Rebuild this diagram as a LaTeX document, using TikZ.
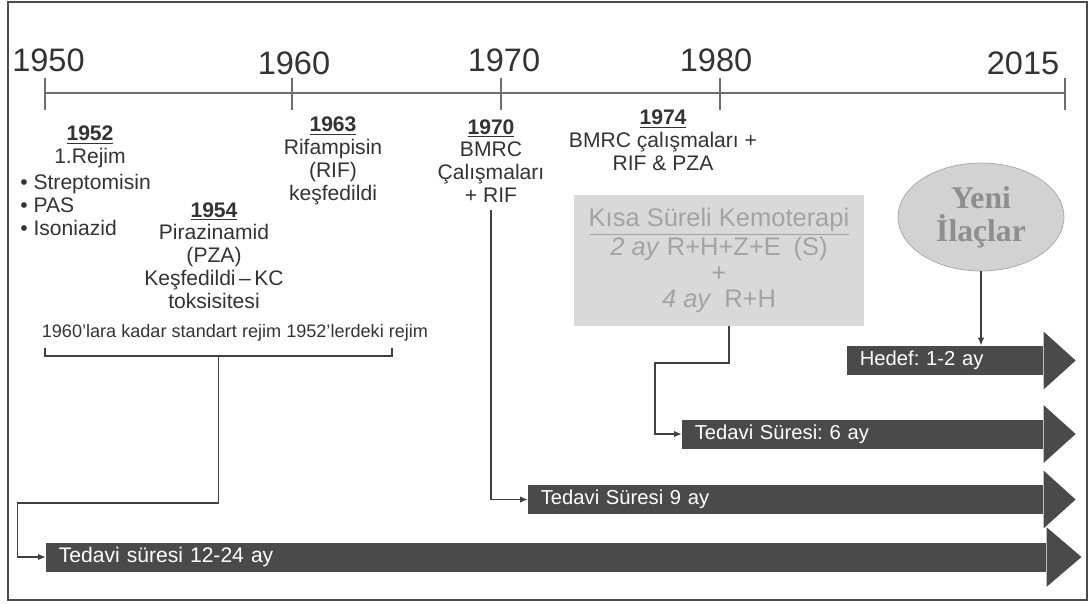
\documentclass[tikz,border=0pt]{standalone}
\usepackage{fontspec}
\setmainfont{Liberation Sans}
\newfontfamily\yenifont{Liberation Serif}
\usepackage{tikz}
\usetikzlibrary{arrows.meta,positioning,shapes.geometric,calc}
\frenchspacing
\definecolor{cText}{HTML}{333333}
\definecolor{cLine}{HTML}{6E6E6E}
\definecolor{cBar}{HTML}{4A4A4A}
\definecolor{cBox}{HTML}{D9D9D9}
\definecolor{cBoxText}{HTML}{A3A3A3}
\definecolor{cOval}{HTML}{D2D2D2}
\definecolor{cOvalText}{HTML}{8E8E8E}
\tikzset{
  year/.style={font=\fontsize{18.5}{22}\selectfont, text=cText, inner sep=0pt},
  event/.style={align=center, text=cText, font=\fontsize{12}{13}\selectfont, inner sep=0pt},
  bar/.style={rectangle, fill=cBar, minimum height=0.58cm, inner xsep=0.25cm, inner ysep=0pt, text=white, align=left, font=\fontsize{11.5}{13}\selectfont, anchor=west},
  head/.style={fill=cBar},
  conn/.style={-{Latex[length=1.6mm, width=1.3mm]}, line width=0.9pt, draw=black!75},
}

\begin{document}
\begin{tikzpicture}[x=0.02cm, y=-0.02cm]
  \useasboundingbox (0,0) rectangle (1091,603);
  \draw[black!70, line width=1.4pt] (8,2) rectangle (1087,600);

  % time axis
  \draw[cLine, line width=1.2pt] (45,93) -- (1065,93);
  \foreach \x in {45,292,501,720,1065}
    \draw[cLine, line width=1.2pt] (\x,78) -- (\x,110);
  \node[year] (y1950) at (48.5,60) {1950};
  \node[year] (y1960) at (294,63) {1960};
  \node[year] (y1970) at (504,60) {1970};
  \node[year] (y1980) at (716,60) {1980};
  \node[year] (y2015) at (1023,63) {2015};

  % events
  \node[event] (e1952) at (90,146.5) {\underline{\textbf{1952}}\\1.Rejim};
  \node[event, align=left, anchor=west] (l1952) at (20,205) {• Streptomisin\\• PAS\\• Isoniazid};
  \node[event] (e1954) at (214,255.5) {\underline{\textbf{1954}}\\Pirazinamid\\(PZA)\\Keşfedildi\,–\,KC\\toksisitesi};
  \node[event] (e1963) at (333,161) {\underline{\textbf{1963}}\\Rifampisin\\(RIF)\\keşfedildi};
  \node[event] (e1970) at (491,161) {\underline{\textbf{1970}}\\BMRC\\Çalışmaları\\+ RIF};
  \node[event] (e1974) at (663,140.5) {\underline{\textbf{1974}}\\BMRC çalışmaları +\\RIF \& PZA};

  \node[text=cText, inner sep=0pt, font=\fontsize{10.3}{12}\selectfont] (std) at (235,333) {1960’lara kadar standart rejim 1952’lerdeki rejim};
  \draw[line width=0.9pt, black!75] (45,348) |- (392,356) -- (392,348);
  \coordinate (bmid) at (218.5,356);

  \node[rectangle, fill=cBox, minimum width=5.8cm, minimum height=2.62cm, align=center, text=cBoxText, font=\fontsize{14.5}{14.6}\selectfont] (kisa) at (719,260.5) {\underline{Kısa Süreli Kemoterapi}\\\textit{2 ay} R+H+Z+E\enspace(S)\\+\\\textit{4 ay}\enspace R+H};
  \node[ellipse, fill=cOval, draw=black!35, minimum width=3.32cm, minimum height=2.16cm, inner sep=0pt, align=center, text=cOvalText, font=\yenifont\bfseries\fontsize{18}{19}\selectfont] (yeni) at (981,217) {Yeni\\İlaçlar};

  % treatment bars
  \node[bar, text width=3.42cm] (a2) at (847,360.5) {Hedef: 1-2 ay};
  \fill[head] (a2.north east) -- ++(0,-14) -- ($(a2.east)+(32,0)$) -- ($(a2.south east)+(0,14)$) -- (a2.south east) -- cycle;
  \node[bar, text width=6.72cm] (a6) at (682,434) {Tedavi Süresi: 6 ay};
  \fill[head] (a6.north east) -- ++(0,-14) -- ($(a6.east)+(32,0)$) -- ($(a6.south east)+(0,14)$) -- (a6.south east) -- cycle;
  \node[bar, text width=9.8cm] (a9) at (528,499.5) {Tedavi Süresi 9 ay};
  \fill[head] (a9.north east) -- ++(0,-14) -- ($(a9.east)+(32,0)$) -- ($(a9.south east)+(0,14)$) -- (a9.south east) -- cycle;
  \node[bar, text width=19.5cm, font=\fontsize{12}{14}\selectfont] (a12) at (46,557) {Tedavi süresi 12-24 ay};
  \fill[head] (a12.north east) -- ++(0,-15) -- ($(a12.east)+(35,0)$) -- ($(a12.south east)+(0,15)$) -- (a12.south east) -- cycle;

  % links
  \draw[conn] (bmid) |- (17.5,503) |- (a12.west);
  \draw[conn] ([yshift=-0.15cm]e1970.south) |- (a9.west);
  \draw[conn] ([xshift=0.2cm]kisa.south) |- (655,363) |- (a6.west);
  \draw[conn] (yeni.south) -- (yeni.south |- a2.north);
\end{tikzpicture}
\end{document}
